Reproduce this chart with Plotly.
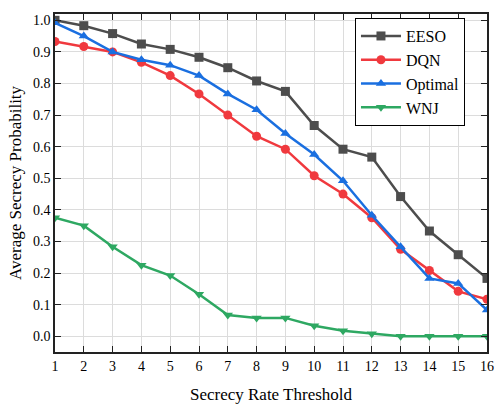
import plotly.graph_objects as go

x_vals = list(range(1, 17))
eeso = [1.0, 0.983, 0.958, 0.925, 0.908, 0.883, 0.85, 0.808, 0.775, 0.667, 0.592, 0.567, 0.442, 0.333, 0.258, 0.183]
dqn = [0.933, 0.917, 0.9, 0.867, 0.825, 0.767, 0.7, 0.633, 0.592, 0.508, 0.45, 0.375, 0.275, 0.208, 0.142, 0.117]
optimal = [0.992, 0.95, 0.9, 0.875, 0.858, 0.825, 0.767, 0.717, 0.642, 0.575, 0.492, 0.383, 0.283, 0.183, 0.167, 0.083]
wnj = [0.375, 0.35, 0.283, 0.225, 0.192, 0.133, 0.067, 0.058, 0.058, 0.033, 0.017, 0.008, 0.0, 0.0, 0.0, 0.0]
y_ticks = [round(i * 0.1, 1) for i in range(11)]

series = [
    ("EESO", eeso, "#4d4d4d", "square"),
    ("DQN", dqn, "#f0393e", "circle"),
    ("Optimal", optimal, "#1a6fe0", "triangle-up"),
    ("WNJ", wnj, "#2ea862", "triangle-down"),
]

FONT = "Liberation Serif"
fig = go.Figure()
for name, vals, color, sym in series:
    fig.add_trace(go.Scatter(
        x=x_vals, y=vals, name=name, mode="lines+markers",
        line=dict(color=color, width=2.5),
        marker=dict(symbol=sym, size=9, color=color),
    ))

xr = [1, 16]
yr = [-0.05, 1.02]
fig.update_layout(
    width=495, height=404,
    margin=dict(l=55, r=8, t=14, b=52),
    paper_bgcolor="white", plot_bgcolor="white",
    font=dict(family=FONT, size=14, color="black"),
    showlegend=True,
    legend=dict(
        x=0.949, y=0.988, xanchor="right", yanchor="top",
        bordercolor="black", borderwidth=1, bgcolor="white",
        font=dict(family=FONT, size=16, color="black"), tracegroupgap=0, itemwidth=40,
    ),
    xaxis=dict(
        range=xr, tickvals=x_vals, ticks="inside", ticklen=6, tickcolor="#222",
        showline=True, linecolor="#222", linewidth=1.5, mirror="ticks", automargin=False,
        showgrid=True, gridcolor="#dcdcdc", gridwidth=1, zeroline=False,
        title=dict(text="Secrecy Rate Threshold", font=dict(family=FONT, size=17), standoff=16),
        tickfont=dict(family=FONT, size=14),
    ),
    yaxis=dict(
        range=yr, tickvals=y_ticks, tickformat=".1f", ticks="inside", ticklen=6, tickcolor="#222",
        showline=True, linecolor="#222", linewidth=1.5, mirror="ticks", automargin=False,
        showgrid=True, gridcolor="#dcdcdc", gridwidth=1, zeroline=False,
        title=dict(text="Average Secrecy Probability", font=dict(family=FONT, size=17), standoff=7),
        tickfont=dict(family=FONT, size=14),
    ),
)

fig.write_html("out.html")
